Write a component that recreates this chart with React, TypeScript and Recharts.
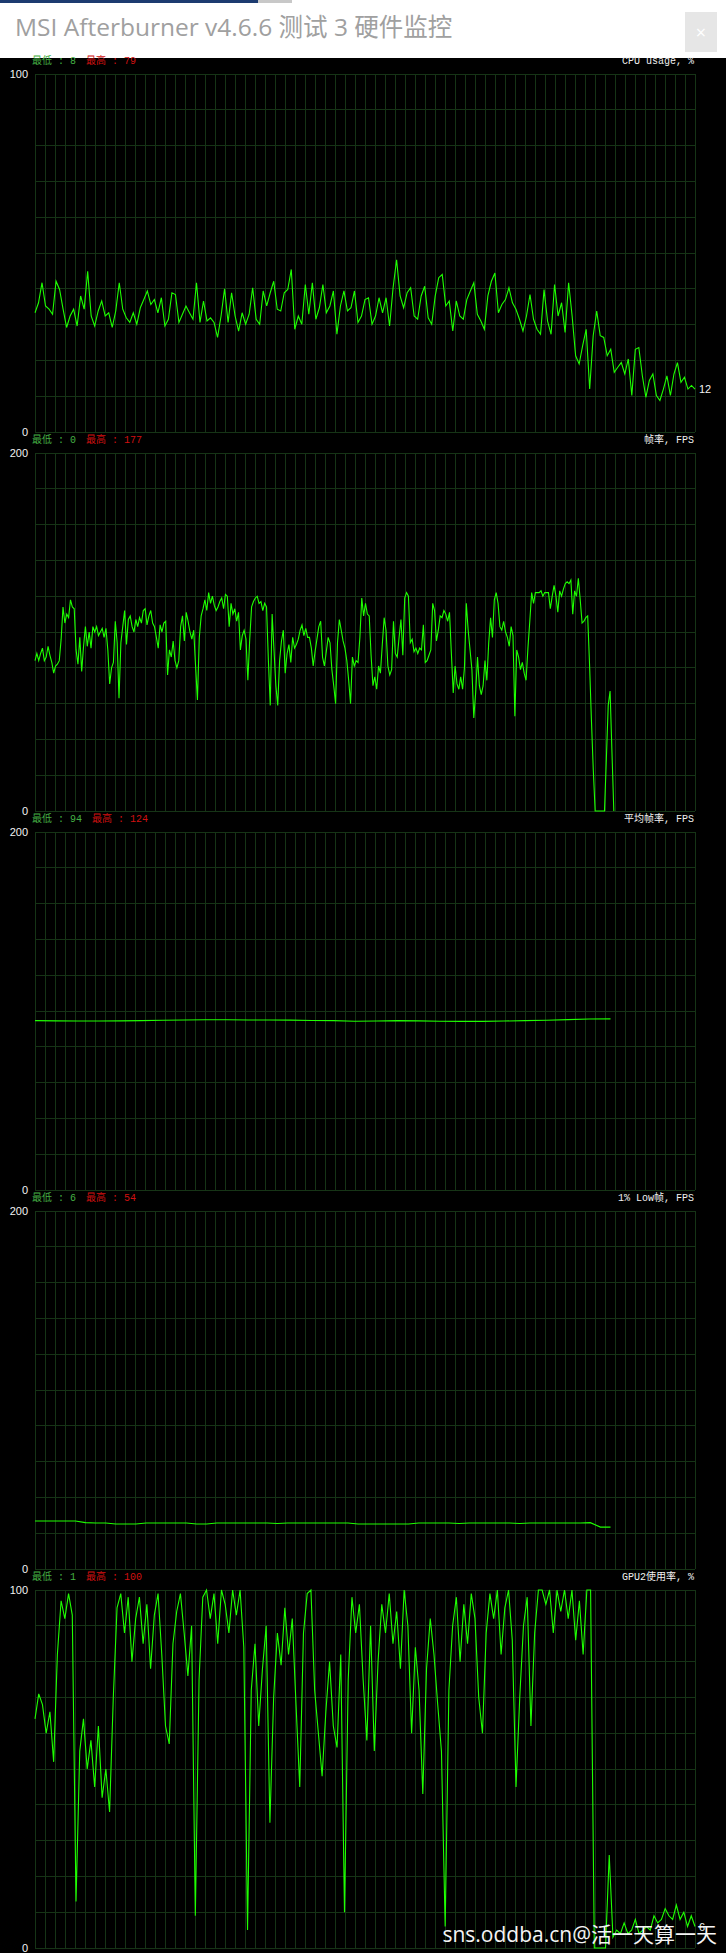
import React from "react";
import { LineChart, Line, XAxis, YAxis, CartesianGrid } from "recharts";

const cpuUsage = [33.3, 36.1, 41.7, 35.2, 34.3, 32.9, 42.1, 39.8, 34.3, 29.2, 32.4, 34.3, 29.6, 38.0, 34.3, 44.9, 32.4, 29.6, 33.8, 36.6, 32.4, 33.3, 29.2, 33.8, 41.7, 34.3, 31.9, 30.6, 33.3, 30.1, 34.7, 37.0, 39.4, 35.6, 37.0, 33.3, 37.5, 29.6, 31.5, 38.9, 38.4, 30.6, 32.9, 35.2, 33.3, 31.5, 41.7, 30.6, 36.6, 31.0, 31.9, 30.6, 26.4, 32.4, 40.0, 30.6, 38.9, 32.4, 28.2, 33.3, 30.1, 32.9, 40.3, 31.5, 30.1, 39.4, 35.2, 38.9, 42.1, 34.3, 33.8, 38.9, 39.8, 45.4, 28.7, 32.4, 30.1, 41.2, 32.9, 41.7, 31.5, 34.7, 41.2, 33.3, 35.2, 39.4, 27.3, 35.2, 39.4, 33.8, 34.7, 39.4, 30.6, 32.4, 37.0, 37.5, 30.1, 32.4, 37.5, 33.3, 37.5, 29.6, 40.3, 48.1, 38.0, 34.7, 38.9, 40.3, 32.4, 31.5, 38.0, 40.7, 31.9, 30.1, 38.0, 43.1, 44.0, 35.2, 36.6, 28.2, 36.6, 32.4, 31.5, 37.0, 39.4, 41.7, 32.9, 31.0, 28.7, 38.0, 42.1, 44.4, 33.3, 35.6, 37.0, 40.3, 36.1, 34.3, 31.5, 28.2, 32.4, 38.4, 31.5, 28.7, 27.3, 39.8, 31.0, 27.3, 41.2, 32.4, 36.1, 27.8, 41.7, 32.4, 21.3, 19.0, 24.1, 28.7, 12.0, 26.9, 33.8, 26.9, 26.4, 21.3, 23.1, 16.7, 18.1, 19.4, 16.2, 20.4, 10.2, 23.1, 23.6, 15.7, 9.7, 14.4, 16.2, 10.2, 8.8, 12.0, 15.7, 10.2, 16.2, 19.4, 13.9, 15.3, 12.0, 13.0, 12.0];

const fps = [84, 88, 84, 88, 91, 84, 86, 92, 87, 83, 77, 81, 82, 84, 96, 114, 105, 110, 108, 118, 114, 113, 90, 82, 97, 78, 92, 103, 92, 100, 91, 103, 100, 103, 98, 100, 102, 97, 102, 90, 71, 80, 83, 106, 94, 63, 94, 103, 112, 93, 107, 109, 103, 100, 107, 103, 108, 105, 112, 113, 104, 109, 112, 105, 103, 97, 91, 104, 100, 105, 106, 76, 90, 86, 95, 84, 80, 84, 103, 109, 95, 111, 106, 100, 96, 101, 81, 62, 97, 109, 113, 118, 112, 122, 116, 120, 115, 112, 114, 117, 119, 113, 121, 120, 103, 116, 110, 113, 106, 111, 90, 98, 101, 96, 73, 96, 114, 117, 119, 120, 116, 117, 112, 116, 114, 84, 59, 110, 90, 70, 59, 84, 95, 101, 77, 88, 93, 83, 97, 91, 93, 96, 101, 104, 98, 102, 97, 97, 91, 81, 89, 96, 103, 106, 86, 81, 89, 97, 94, 79, 70, 60, 94, 107, 101, 95, 91, 84, 73, 60, 86, 81, 84, 83, 97, 119, 109, 116, 110, 109, 87, 70, 75, 68, 81, 77, 93, 108, 101, 81, 76, 79, 106, 88, 86, 97, 107, 87, 119, 122, 120, 94, 96, 89, 91, 88, 91, 90, 104, 83, 84, 87, 90, 116, 112, 95, 101, 109, 108, 112, 110, 106, 111, 88, 66, 81, 71, 68, 75, 68, 80, 116, 101, 90, 79, 52, 66, 86, 70, 65, 70, 84, 73, 94, 108, 97, 118, 122, 116, 103, 101, 106, 100, 97, 92, 103, 98, 53, 90, 86, 79, 83, 77, 73, 91, 106, 122, 116, 122, 122, 122, 123, 120, 122, 122, 122, 113, 120, 126, 120, 111, 123, 120, 124, 127, 128, 127, 129, 110, 123, 120, 130, 118, 105, 106, 108, 109, 82, 51, 23, 0, 0, 0, 0, 0, 0, 29, 59, 67, 33, 0];

const avgFps = [94.6, 94.5, 94.4, 94.4, 94.5, 94.6, 94.8, 95.0, 95.1, 95.1, 95.0, 95.0, 94.9, 94.7, 94.6, 94.3, 94.4, 94.6, 94.5, 94.3, 94.2, 94.2, 94.4, 94.6, 94.8, 95.2, 95.5, 95.6];

const low1Fps = [26.8, 26.8, 26.8, 26.8, 26.8, 25.9, 25.7, 25.7, 25.1, 25.1, 25.1, 25.7, 25.7, 25.7, 25.7, 25.7, 25.1, 25.1, 25.7, 25.7, 25.7, 25.7, 25.7, 25.7, 25.4, 25.7, 25.7, 25.7, 25.7, 25.7, 25.7, 25.7, 25.1, 25.1, 25.1, 25.1, 25.1, 25.1, 25.7, 25.7, 25.7, 25.7, 25.4, 25.7, 25.7, 25.7, 25.7, 25.7, 25.4, 25.7, 25.7, 25.7, 25.7, 25.7, 25.7, 25.9, 23.4, 23.4];

const gpu2Usage = [64, 71, 68, 60, 66, 52, 82, 97, 92, 99, 93, 13, 55, 64, 50, 58, 45, 62, 42, 50, 38, 70, 95, 99, 88, 98, 80, 92, 98, 85, 96, 78, 93, 99, 82, 62, 57, 85, 94, 99, 88, 76, 90, 9, 75, 98, 100, 92, 99, 85, 100, 96, 88, 100, 93, 100, 84, 5, 72, 85, 62, 78, 90, 35, 70, 88, 79, 95, 82, 92, 68, 45, 88, 99, 100, 72, 60, 48, 66, 80, 62, 56, 82, 10, 75, 98, 88, 96, 75, 58, 90, 55, 80, 96, 88, 99, 85, 94, 78, 100, 90, 60, 84, 72, 43, 78, 92, 82, 68, 55, 6, 72, 90, 98, 80, 96, 85, 99, 92, 70, 60, 88, 99, 92, 100, 82, 95, 100, 86, 45, 70, 90, 98, 62, 88, 100, 100, 96, 100, 88, 100, 94, 100, 92, 100, 86, 97, 82, 100, 100, 0, 0, 0, 0, 26, 3, 5, 4, 7, 4, 5, 8, 4, 5, 6, 5, 9, 7, 8, 11, 9, 8, 12, 8, 10, 6, 9, 6];

const panelTitles = ["CPU usage, %", "帧率, FPS", "平均帧率, FPS", "1% Low帧, FPS", "GPU2使用率, %"];
const panelMin = [8, 0, 94, 6, 1];
const panelMax = [79, 177, 124, 54, 100];
const panelScale = [100, 200, 200, 200, 100];
// share of the recorded timeline each series covers (the FPS logs stop early)
const panelCover = [1, 0.877, 0.872, 0.872, 1];
const endLabels = ["12", "", "", "", "6"];
const series = [cpuUsage, fps, avgFps, low1Fps, gpu2Usage];

const DIVS = 66;
const PLOT_H = 358;
const PANEL_STEP = 379;
const FIRST_TOP = 74;

const GREEN = "#1eff00";
const GRID = "#163416";
const monoFont = "'Liberation Mono','Noto Sans CJK SC',monospace";

const toRows = (vals: number[], cover: number) =>
  vals.map((v, i) => ({ t: (i / (vals.length - 1)) * cover * DIVS, v }));

function Panel({ idx }: { idx: number }) {
  const top = FIRST_TOP + idx * PANEL_STEP;
  const ymax = panelScale[idx];
  const yTicks = Array.from({ length: 11 }, (_, i) => (i * ymax) / 10);
  const xTicks = Array.from({ length: DIVS + 1 }, (_, i) => i);
  const data = toRows(series[idx], panelCover[idx]);
  const last = data.length - 1;

  return (
    <React.Fragment>
      <div
        style={{
          position: "absolute",
          left: 32,
          top: top - 18,
          fontFamily: monoFont,
          fontSize: 10,
          lineHeight: "12px",
          whiteSpace: "pre",
        }}
      >
        <span style={{ color: "#44b044" }}>最低 : {panelMin[idx]}</span>
        <span style={{ color: "#d01010", marginLeft: 10 }}>最高 : {panelMax[idx]}</span>
      </div>
      <div
        style={{
          position: "absolute",
          right: 32,
          top: top - 18,
          fontFamily: monoFont,
          fontSize: 10,
          lineHeight: "12px",
          color: "#f0f0f0",
          whiteSpace: "pre",
        }}
      >
        {panelTitles[idx]}
      </div>
      <div style={{ position: "absolute", left: 0, top: top - 8 }}>
        <LineChart
          width={726}
          height={PLOT_H + 16}
          data={data}
          margin={{ top: 8, right: 31, bottom: 8, left: 0 }}
        >
          <CartesianGrid
            stroke={GRID}
            shapeRendering="crispEdges"
            verticalCoordinatesGenerator={(p: any) =>
              xTicks.map((i) => p.offset.left + (i * p.offset.width) / DIVS)
            }
          />
          <XAxis
            type="number"
            dataKey="t"
            domain={[0, DIVS]}
            ticks={xTicks}
            interval={0}
            height={0}
            tick={false}
            axisLine={false}
            tickLine={false}
          />
          <YAxis
            type="number"
            domain={[0, ymax]}
            ticks={yTicks}
            interval={0}
            width={35}
            axisLine={false}
            tickLine={false}
            tick={(p: any) =>
              p.payload.value === 0 || p.payload.value === ymax ? (
                <text
                  x={28}
                  y={p.y}
                  textAnchor="end"
                  dominantBaseline="central"
                  fill="#f2f2f2"
                  fontSize={11}
                  fontFamily="'Liberation Sans',Arial,sans-serif"
                >
                  {p.payload.value}
                </text>
              ) : (
                <g />
              )
            }
          />
          <Line
            type="linear"
            dataKey="v"
            stroke={GREEN}
            strokeWidth={1.1}
            dot={false}
            isAnimationActive={false}
            label={(p: any) =>
              p.index === last && endLabels[idx] ? (
                <text
                  x={p.x + 4}
                  y={p.y}
                  dominantBaseline="central"
                  fill="#f2f2f2"
                  fontSize={11}
                  fontFamily="'Liberation Sans',Arial,sans-serif"
                >
                  {endLabels[idx]}
                </text>
              ) : (
                <g />
              )
            }
          />
        </LineChart>
      </div>
    </React.Fragment>
  );
}

export default function App() {
  return (
    <div
      style={{
        position: "absolute",
        left: 0,
        top: 0,
        width: 726,
        height: 1953,
        background: "#000",
        overflow: "hidden",
      }}
    >
      <div style={{ position: "absolute", left: 0, top: 0, width: 726, height: 58, background: "#fff" }}>
        <div style={{ position: "absolute", left: 0, top: 0, width: 258, height: 3, background: "#1c3b70" }} />
        <div style={{ position: "absolute", left: 258, top: 0, width: 34, height: 3, background: "#c8c8c8" }} />
        <div
          style={{
            position: "absolute",
            left: 15,
            top: 10,
            fontSize: 24.5,
            lineHeight: "34px",
            color: "#a0a0a0",
            fontFamily: "'Open Sans','Noto Sans CJK SC',sans-serif",
            whiteSpace: "pre",
          }}
        >
          MSI Afterburner v4.6.6 测试 3 硬件监控
        </div>
        <div
          style={{
            position: "absolute",
            left: 685,
            top: 12,
            width: 32,
            height: 40,
            background: "#e6e6e6",
            color: "#ffffff",
            fontSize: 18,
            lineHeight: "40px",
            textAlign: "center",
            fontFamily: "'Open Sans',sans-serif",
          }}
        >
          ×
        </div>
      </div>
      {series.map((_, i) => (
        <Panel key={i} idx={i} />
      ))}
      <div
        style={{
          position: "absolute",
          right: 9,
          top: 1919,
          fontSize: 21,
          lineHeight: "30px",
          color: "#f4f4f4",
          fontFamily: "'Open Sans','Noto Sans CJK SC',sans-serif",
          whiteSpace: "pre",
        }}
      >
        sns.oddba.cn@活一天算一天
      </div>
    </div>
  );
}
